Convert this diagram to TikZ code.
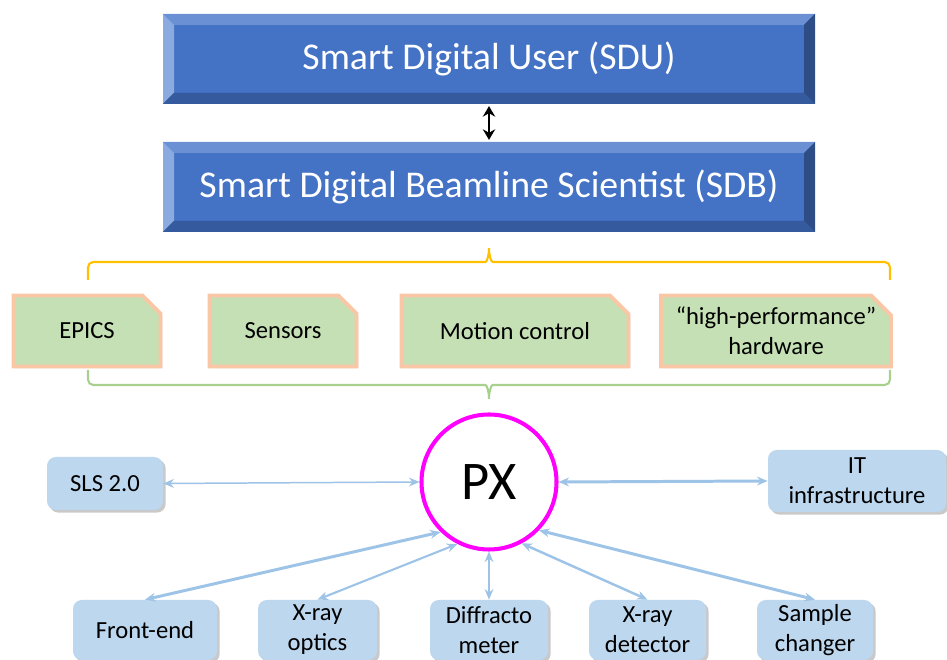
\documentclass[tikz,border=0pt]{standalone}
\usepackage{fontspec}
\setmainfont{Carlito}
\usetikzlibrary{arrows.meta,shapes.misc,shadows}

\begin{document}
\begin{tikzpicture}[
  bevelbox/.style={rectangle, fill=colSD, text=white, inner sep=0pt,
    minimum width=13.04cm, minimum height=1.8cm,
    font=\fontsize{21.5}{25}\selectfont,
    path picture={
      \coordinate (nw) at (path picture bounding box.north west);
      \coordinate (ne) at (path picture bounding box.north east);
      \coordinate (sw) at (path picture bounding box.south west);
      \coordinate (se) at (path picture bounding box.south east);
      \fill[colSDtop] (nw) -- (ne) -- ([shift={(-\bv,-\bv)}]ne) -- ([shift={(\bv,-\bv)}]nw) -- cycle;
      \fill[colSDleft] (nw) -- (sw) -- ([shift={(\bv,\bv)}]sw) -- ([shift={(\bv,-\bv)}]nw) -- cycle;
      \fill[colSDbot] (sw) -- (se) -- ([shift={(-\bv,\bv)}]se) -- ([shift={(\bv,\bv)}]sw) -- cycle;
      \fill[colSDright] (ne) -- (se) -- ([shift={(-\bv,\bv)}]se) -- ([shift={(-\bv,-\bv)}]ne) -- cycle;
    }},
  layerbox/.style={chamfered rectangle, chamfered rectangle corners=north east,
    chamfered rectangle xsep=0.2cm, chamfered rectangle ysep=0.2cm,
    fill=colLayer, draw=colGlow, line width=2.2pt, inner sep=0pt,
    minimum height=1.42cm, align=center,
    font=\fontsize{14}{17}\selectfont,
    drop shadow={shadow xshift=1pt, shadow yshift=-1pt, opacity=0.2, fill=black!60}},
  partbox/.style={rectangle, rounded corners=5pt, fill=colPart, inner sep=0pt,
    align=center, font=\fontsize{14}{17}\selectfont,
    drop shadow={shadow xshift=1.5pt, shadow yshift=-1.5pt, opacity=0.3, fill=black!70}},
  link/.style={draw=colLink, {Stealth[length=6pt,width=5pt]}-{Stealth[length=6pt,width=5pt]}},
  brack/.style={line width=1.2pt, rounded corners=3pt}
]

% Colori
\definecolor{colSD}{HTML}{4472C4}
\definecolor{colSDtop}{HTML}{6B90D4}
\definecolor{colSDleft}{HTML}{8AAAE0}
\definecolor{colSDbot}{HTML}{355A9E}
\definecolor{colSDright}{HTML}{2E4D86}
\definecolor{colLayer}{HTML}{C5E0B4}
\definecolor{colGlow}{HTML}{F9C6A6}
\definecolor{colPart}{HTML}{BDD7EE}
\definecolor{colLink}{HTML}{9DC3E6}
\definecolor{colYellow}{HTML}{FFC000}
\definecolor{colGreen}{HTML}{A9D18E}
\definecolor{colPX}{HTML}{FF00FF}

% Spessore smusso
\def\bv{0.22cm}

\useasboundingbox (0,0) rectangle (18.94,13.2);

% Livelli superiori
\node[bevelbox] (sdu) at (9.78,12.02) {Smart Digital User (SDU)};
\node[bevelbox] (sdb) at (9.78,9.46) {Smart Digital Beamline Scientist (SDB)};
\draw[line width=1.6pt, {Stealth[length=6pt,width=7pt]}-{Stealth[length=6pt,width=7pt]}, shorten <=1pt, shorten >=1pt]
  (sdu.south) -- (sdb.north);

% Parentesi gialla
\draw[brack, colYellow] (1.76,7.6) -- (1.76,7.96) -- (9.6,7.96)
  to[out=0,in=-90] (9.78,8.3) to[out=-90,in=180] (9.96,7.96) -- (17.8,7.96) -- (17.8,7.6);

% Blocchi verdi
\node[layerbox, minimum width=2.94cm] (epics) at (1.74,6.58) {EPICS};
\node[layerbox, minimum width=2.94cm] (sens) at (5.66,6.58) {Sensors};
\node[layerbox, minimum width=4.54cm] (motion) at (10.3,6.58) {Motion control};
\node[layerbox, minimum width=4.6cm] (hw) at (15.52,6.58) {“high-performance”\\hardware};

% Parentesi verde
\draw[brack, colGreen] (1.76,5.8) -- (1.76,5.5) -- (9.6,5.5)
  to[out=0,in=90] (9.78,5.16) to[out=90,in=180] (9.96,5.5) -- (17.8,5.5) -- (17.8,5.8);

% PX
\node[circle, draw=colPX, line width=2.3pt, fill=white, minimum size=2.7cm, inner sep=0pt,
  font=\fontsize{31}{36}\selectfont] (px) at (9.78,3.56) {PX};

% Componenti
\node[partbox, minimum width=2.32cm, minimum height=1.06cm] (sls) at (2.1,3.53) {SLS 2.0};
\node[partbox, minimum width=3.56cm, minimum height=1.24cm] (it) at (17.14,3.58) {IT\\infrastructure};
\node[partbox, minimum width=2.88cm, minimum height=1.2cm] (fe) at (2.9,0.6) {Front-end};
\node[partbox, minimum width=2.38cm, minimum height=1.2cm] (opt) at (6.35,0.6) {X-ray\\optics};
\node[partbox, minimum width=2.36cm, minimum height=1.2cm] (diff) at (9.78,0.6) {Diffracto\\meter};
\node[partbox, minimum width=2.34cm, minimum height=1.2cm] (det) at (12.95,0.6) {X-ray\\detector};
\node[partbox, minimum width=2.32cm, minimum height=1.2cm] (samp) at (16.3,0.6) {Sample\\changer};

% Collegamenti
\draw[link, line width=0.85pt] (sls.east) -- (px.west);
\draw[link, line width=1.7pt] (it.west) -- (px.east);
\draw[link, line width=1.7pt] (fe.north) -- (px.-134);
\draw[link, line width=1.2pt] (opt.north) -- (px.-117);
\draw[link, line width=1.2pt] (diff.north) -- (px.south);
\draw[link, line width=1.4pt] (det.north) -- (px.-62);
\draw[link, line width=1.7pt] (samp.north) -- (px.-44);

\end{tikzpicture}
\end{document}
